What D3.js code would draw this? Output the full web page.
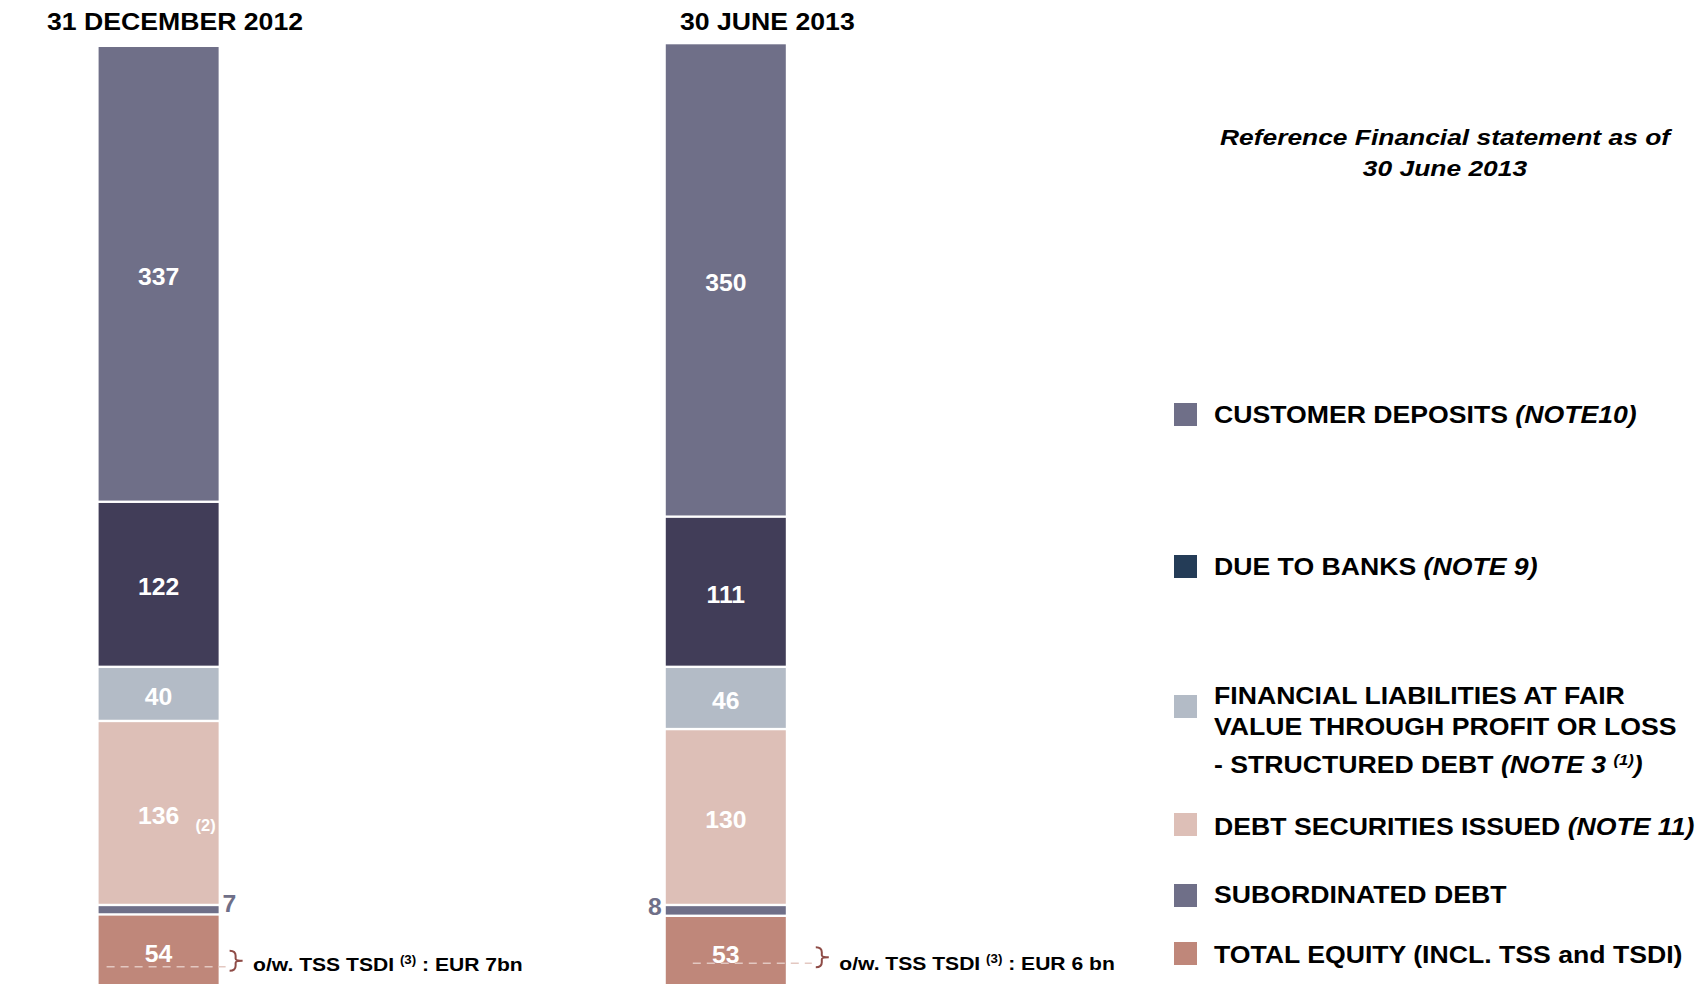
<!DOCTYPE html>
<html>
<head>
<meta charset="utf-8">
<script src="https://cdn.jsdelivr.net/npm/d3@7"></script>
<style>
  body { margin: 0; background: #fff; }
  text { font-family: "Liberation Sans", Arial, sans-serif; font-weight: bold; }
</style>
</head>
<body>
<div id="chart"></div>
<script>
// values in EUR bn, listed top of the bar to bottom
var periods = ["31 DECEMBER 2012", "30 JUNE 2013"];
var segments = ["Customer deposits", "Due to banks", "Structured debt", "Debt securities issued", "Subordinated debt", "Total equity"];
var dec2012 = [337, 122, 40, 136, 7, 54];
var jun2013 = [350, 111, 46, 130, 8, 53];
var tssTsdi = ["7bn", "6 bn"];
var barColors = ["#6f6f88", "#413d58", "#b3bbc6", "#ddbfb7", "#6f6f88", "#bf877a"];
var legendColors = ["#6f6f88", "#243c57", "#b3bbc6", "#ddbfb7", "#6f6f88", "#bf877a"];
// legend text, one entry per line: [text, italic?, superscript?]
var legendLabels = [
  [[["CUSTOMER DEPOSITS "], ["(NOTE10)", "i"]]],
  [[["DUE TO BANKS "], ["(NOTE 9)", "i"]]],
  [[["FINANCIAL LIABILITIES AT FAIR"]],
   [["VALUE THROUGH PROFIT OR LOSS"]],
   [["- STRUCTURED DEBT "], ["(NOTE 3 ", "i"], ["(1)", "i", "sup"], [")", "i"]]],
  [[["DEBT SECURITIES ISSUED "], ["(NOTE 11)", "i"]]],
  [[["SUBORDINATED DEBT"]]],
  [[["TOTAL EQUITY (INCL. TSS and TSDI)"]]]
];

var W = 1699, H = 984;
var stretch = 1.11; // the source text is a bit wide

var svg = d3.select("#chart").append("svg")
  .attr("width", W).attr("height", H)
  .style("display", "block");

var rows = periods.map(function(p, i) {
  var vals = [dec2012, jun2013][i];
  var r = {period: p, idx: i};
  segments.forEach(function(s, j) { r[s] = vals[j]; });
  return r;
});

// stack from the bottom (equity) to the top (deposits)
var stacked = d3.stack().keys(segments.slice().reverse())(rows);

var x = d3.scaleBand().domain(periods).range([98.6, 785.8])
  .paddingInner(0.7884).paddingOuter(0);
var y = d3.scaleLinear().domain([0, 700]).range([987.5, 40.4]);
var bw = x.bandwidth();

function addText(g, str, tx, ty, size, anchor, sx) {
  return g.append("text")
    .attr("transform", "translate(" + tx + "," + ty + ") scale(" + (sx || stretch) + ",1)")
    .attr("text-anchor", anchor || "start")
    .style("font-size", size + "px")
    .text(str);
}

// bars
var layers = svg.append("g").selectAll("g")
  .data(stacked).enter().append("g")
  .attr("fill", function(d) { return barColors[segments.indexOf(d.key)]; });

layers.selectAll("rect")
  .data(function(d) { return d; })
  .enter().append("rect")
  .attr("x", function(d) { return x(d.data.period); })
  .attr("width", bw)
  .attr("y", function(d) { return y(d[1]) + 1.2; })
  .attr("height", function(d) { return Math.max(0, y(d[0]) - y(d[1]) - 2.4); });

// value labels
stacked.forEach(function(layer) {
  var j = segments.indexOf(layer.key);
  layer.forEach(function(d) {
    var v = d[1] - d[0];
    var mid = (y(d[0]) + y(d[1])) / 2;
    var x0 = x(d.data.period);
    if (v >= 20) {
      addText(svg, v, x0 + bw / 2, mid + 2.5, 24, "middle", 1.03)
        .attr("dominant-baseline", "central").attr("fill", "#fff");
    } else if (d.data.idx === 0) {
      // small block: figure sits outside the bar
      addText(svg, v, x0 + bw + 4, mid - 6, 24, "start", 1.03)
        .attr("dominant-baseline", "central").attr("fill", barColors[j]);
    } else {
      addText(svg, v, x0 - 4, mid - 3.5, 24, "end", 1.03)
        .attr("dominant-baseline", "central").attr("fill", barColors[j]);
    }
  });
});

// footnote (2) next to the 2012 debt securities figure
var dsLayer = stacked.find(function(l) { return l.key === "Debt securities issued"; });
addText(svg, "(2)", x(periods[0]) + bw - 23, (y(dsLayer[0][0]) + y(dsLayer[0][1])) / 2 + 18, 16, "start", 1.03)
  .attr("fill", "#fff");

// period titles
var titleX = [47, 680];
periods.forEach(function(p, i) {
  addText(svg, p, titleX[i], 30, 24, "start").attr("fill", "#000");
});

// TSS / TSDI annotation on the equity block
var annShift = [0, 19], annY = [966.7, 963.3];
periods.forEach(function(p, i) {
  var left = x(p), right = x(p) + bw + annShift[i];
  var dy = annY[i];
  svg.append("line")
    .attr("x1", left + 8 + annShift[i]).attr("x2", right + 7)
    .attr("y1", dy).attr("y2", dy)
    .attr("stroke", "#e3c8c1").attr("stroke-width", 1.5)
    .attr("stroke-dasharray", "8,6");
  var bx = right + 11, cy = dy - 6;
  svg.append("path")
    .attr("d", "M" + bx + "," + (cy - 10) +
      " Q" + (bx + 6) + "," + (cy - 10) + " " + (bx + 6) + "," + (cy - 5) +
      " L" + (bx + 6) + "," + (cy - 2) +
      " Q" + (bx + 6) + "," + cy + " " + (bx + 13) + "," + cy +
      " Q" + (bx + 6) + "," + cy + " " + (bx + 6) + "," + (cy + 2) +
      " L" + (bx + 6) + "," + (cy + 5) +
      " Q" + (bx + 6) + "," + (cy + 10) + " " + bx + "," + (cy + 10))
    .attr("fill", "none").attr("stroke", "#8e4b46").attr("stroke-width", 2);
  var t = addText(svg, "", right + 34.5, dy + 4 + i * 2.5, 19, "start").attr("fill", "#000");
  t.append("tspan").text("o/w. TSS TSDI ");
  t.append("tspan").attr("dy", -7).style("font-size", "12px").text("(3)");
  t.append("tspan").attr("dy", 7).text(" : EUR " + tssTsdi[i]);
});

// subtitle
var sub = svg.append("g").style("font-style", "italic");
addText(sub, "Reference Financial statement as of", 1445, 145, 22, "middle", 1.2).attr("fill", "#000");
addText(sub, "30 June 2013", 1445, 176, 22, "middle", 1.2).attr("fill", "#000");

// legend
var legSquareY = [403, 555, 695, 813, 884, 942];
var legLineY = [[423], [575], [704, 735, 772.7], [835], [903], [963]];
var legend = svg.append("g");
legendLabels.forEach(function(lines, j) {
  legend.append("rect")
    .attr("x", 1174).attr("y", legSquareY[j])
    .attr("width", 23).attr("height", 23)
    .attr("fill", legendColors[j]);
  lines.forEach(function(parts, k) {
    var t = addText(legend, "", 1214, legLineY[j][k], 24, "start").attr("fill", "#000");
    parts.forEach(function(p) {
      var ts = t.append("tspan").text(p[0]);
      if (p[1] === "i") ts.style("font-style", "italic");
      if (p[2] === "sup") {
        ts.attr("dy", -8).style("font-size", "15px");
      } else if (parts.some(function(q) { return q[2] === "sup"; }) && p[0] === ")") {
        ts.attr("dy", 8);
      }
    });
  });
});
</script>
</body>
</html>
